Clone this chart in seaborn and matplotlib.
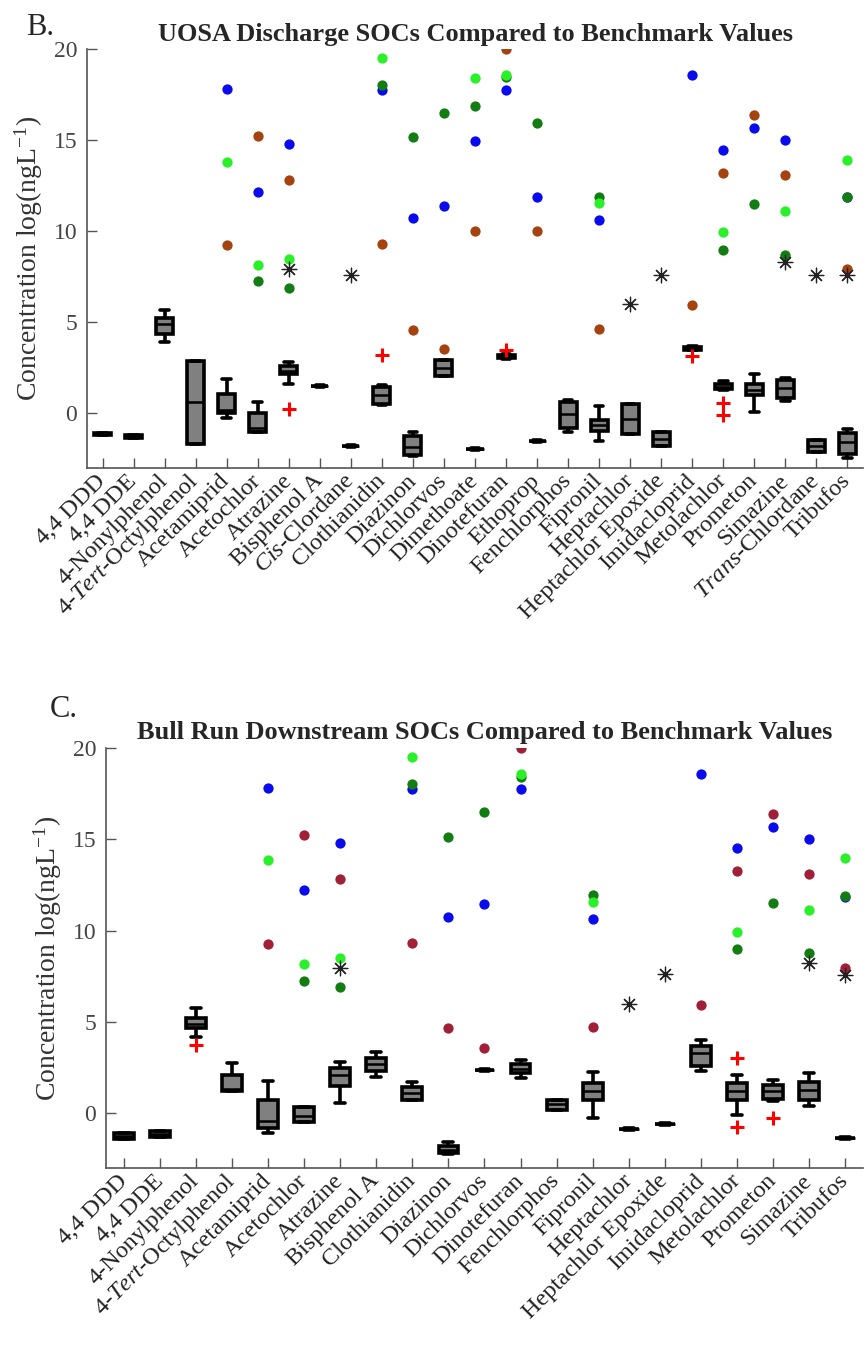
import numpy as np
import pandas as pd
import matplotlib
matplotlib.use("Agg")
import matplotlib.pyplot as plt
import seaborn as sns

sns.set_style("ticks")
plt.rcParams["font.family"] = ["Liberation Serif", "DejaVu Serif"]
plt.rcParams["mathtext.fontset"] = "custom"
plt.rcParams["mathtext.rm"] = "Liberation Serif"
plt.rcParams["mathtext.it"] = "Liberation Serif:italic"
plt.rcParams["mathtext.bf"] = "Liberation Serif:bold"

NaN = np.nan

# ---------------- Panel B: UOSA Discharge ----------------
cats_b = ["4,4 DDD", "4,4 DDE", "4-Nonylphenol", "4-Tert-Octylphenol", "Acetamiprid",
          "Acetochlor", "Atrazine", "Bisphenol A", "Cis-Clordane", "Clothianidin",
          "Diazinon", "Dichlorvos", "Dimethoate", "Dinotefuran", "Ethoprop",
          "Fenchlorphos", "Fipronil", "Heptachlor", "Heptachlor Epoxide", "Imidacloprid",
          "Metolachlor", "Prometon", "Simazine", "Trans-Chlordane", "Tribufos"]
labels_b = ["4,4 DDD", "4,4 DDE", "4-Nonylphenol", "4-$\\it{Tert}$-Octylphenol", "Acetamiprid",
            "Acetochlor", "Atrazine", "Bisphenol A", "$\\it{Cis}$-Clordane", "Clothianidin",
            "Diazinon", "Dichlorvos", "Dimethoate", "Dinotefuran", "Ethoprop",
            "Fenchlorphos", "Fipronil", "Heptachlor", "Heptachlor Epoxide", "Imidacloprid",
            "Metolachlor", "Prometon", "Simazine", "$\\it{Trans}$-Chlordane", "Tribufos"]
lo_b  = [-1.20, -1.35, 3.90, -1.70, -0.25, -1.05, 1.60, 1.45, -1.85, 0.45, -2.35, 2.05, -2.00, 3.00, -1.55, -1.05, -1.50, -1.15, -1.80, 3.45, 1.30, 0.10, 0.70, -2.10, -2.43]
q1_b  = [-1.20, -1.35, 4.35, -1.70, 0.00, -1.00, 2.15, 1.50, -1.80, 0.50, -2.30, 2.05, -1.95, 3.05, -1.50, -0.80, -0.95, -1.15, -1.80, 3.50, 1.35, 1.00, 0.85, -2.10, -2.25]
med_b = [-1.15, -1.28, 4.90, 0.60, 0.20, -0.80, 2.35, 1.50, -1.80, 1.00, -1.85, 2.50, -1.95, 3.10, -1.50, -0.05, -0.65, -0.30, -1.40, 3.60, 1.45, 1.30, 1.40, -1.80, -1.60]
q3_b  = [-1.10, -1.20, 5.25, 2.85, 1.05, 0.00, 2.60, 1.50, -1.80, 1.45, -1.25, 2.95, -1.95, 3.20, -1.50, 0.60, -0.35, 0.50, -1.00, 3.65, 1.60, 1.60, 1.85, -1.45, -1.10]
hi_b  = [-1.10, -1.20, 5.70, 2.85, 1.90, 0.60, 2.80, 1.55, -1.75, 1.55, -1.00, 2.95, -1.90, 3.25, -1.45, 0.75, 0.40, 0.50, -1.00, 3.70, 1.80, 2.15, 1.95, -1.45, -0.88]
out_cat_b = ["Atrazine", "Clothianidin", "Dinotefuran", "Imidacloprid", "Metolachlor", "Metolachlor"]
out_val_b = [0.25, 3.20, 3.45, 3.15, 0.55, -0.10]
bench_cat_b = ["Acetamiprid", "Acetochlor", "Atrazine", "Clothianidin", "Diazinon", "Dichlorvos",
               "Dimethoate", "Dinotefuran", "Ethoprop", "Fipronil", "Imidacloprid", "Metolachlor",
               "Prometon", "Simazine", "Tribufos"]
blue_b  = [17.80, 12.15, 14.80, 17.75, 10.70, 11.40, 14.95, 17.75, 11.90, 10.60, 18.55, 14.45, 15.65, 15.00, 11.85]
dgreen_b = [NaN, 7.25, 6.90, 18.00, 15.15, 16.50, 16.85, 18.45, 15.95, 11.90, NaN, 8.95, 11.50, 8.70, 11.90]
lime_b  = [13.80, 8.15, 8.45, 19.50, NaN, NaN, 18.40, 18.55, NaN, 11.55, NaN, 9.95, NaN, 11.10, 13.90]
red_b   = [9.25, 15.25, 12.80, 9.30, 4.60, 3.55, 10.00, 20.00, 10.00, 4.65, 5.95, 13.20, 16.40, 13.10, 7.90]
star_cat_b = ["Atrazine", "Cis-Clordane", "Heptachlor", "Heptachlor Epoxide", "Simazine", "Trans-Chlordane", "Tribufos"]
star_val_b = [7.95, 7.60, 6.00, 7.60, 8.30, 7.60, 7.60]

# ---------------- Panel C: Bull Run Downstream ----------------
cats_c = ["4,4 DDD", "4,4 DDE", "4-Nonylphenol", "4-Tert-Octylphenol", "Acetamiprid",
          "Acetochlor", "Atrazine", "Bisphenol A", "Clothianidin", "Diazinon",
          "Dichlorvos", "Dinotefuran", "Fenchlorphos", "Fipronil", "Heptachlor",
          "Heptachlor Epoxide", "Imidacloprid", "Metolachlor", "Prometon", "Simazine", "Tribufos"]
labels_c = ["4,4 DDD", "4,4 DDE", "4-Nonylphenol", "4-$\\it{Tert}$-Octylphenol", "Acetamiprid",
            "Acetochlor", "Atrazine", "Bisphenol A", "Clothianidin", "Diazinon",
            "Dichlorvos", "Dinotefuran", "Fenchlorphos", "Fipronil", "Heptachlor",
            "Heptachlor Epoxide", "Imidacloprid", "Metolachlor", "Prometon", "Simazine", "Tribufos"]
lo_c  = [-1.40, -1.30, 4.15, 1.20, -1.10, -0.50, 0.55, 2.00, 0.75, -2.25, 2.30, 1.95, 0.20, -0.25, -0.90, -0.65, 2.30, -0.12, 0.65, 0.40, -1.40]
q1_c  = [-1.40, -1.30, 4.65, 1.20, -0.80, -0.50, 1.50, 2.30, 0.75, -2.20, 2.35, 2.20, 0.20, 0.75, -0.85, -0.60, 2.60, 0.75, 0.80, 0.75, -1.35]
med_c = [-1.25, -1.15, 4.90, 1.35, -0.45, -0.15, 2.10, 2.70, 1.10, -2.00, 2.35, 2.40, 0.50, 1.20, -0.85, -0.60, 3.30, 1.20, 1.20, 1.25, -1.35]
q3_c  = [-1.10, -1.00, 5.20, 2.10, 0.75, 0.35, 2.45, 3.00, 1.45, -1.80, 2.35, 2.70, 0.75, 1.65, -0.85, -0.60, 3.70, 1.65, 1.55, 1.70, -1.35]
hi_c  = [-1.10, -1.00, 5.75, 2.75, 1.75, 0.35, 2.80, 3.35, 1.70, -1.60, 2.40, 2.90, 0.75, 2.25, -0.80, -0.55, 4.00, 2.10, 1.80, 2.20, -1.30]
out_cat_c = ["4-Nonylphenol", "Metolachlor", "Metolachlor", "Prometon"]
out_val_c = [3.75, 3.05, -0.73, -0.27]
bench_cat_c = ["Acetamiprid", "Acetochlor", "Atrazine", "Clothianidin", "Diazinon", "Dichlorvos",
               "Dinotefuran", "Fipronil", "Imidacloprid", "Metolachlor", "Prometon", "Simazine", "Tribufos"]
blue_c  = [17.80, 12.20, 14.80, 17.75, 10.75, 11.45, 17.75, 10.65, 18.60, 14.50, 15.65, 15.00, 11.85]
dgreen_c = [NaN, 7.25, 6.90, 18.05, 15.15, 16.50, 18.40, 11.95, NaN, 9.00, 11.50, 8.75, 11.90]
lime_c  = [13.85, 8.15, 8.50, 19.50, NaN, NaN, 18.55, 11.55, NaN, 9.95, NaN, 11.15, 13.95]
red_c   = [9.25, 15.25, 12.80, 9.30, 4.65, 3.55, 20.00, 4.70, 5.95, 13.25, 16.40, 13.10, 7.95]
star_cat_c = ["Atrazine", "Heptachlor", "Heptachlor Epoxide", "Simazine", "Tribufos"]
star_val_c = [7.95, 6.00, 7.60, 8.25, 7.55]

yticks = [0, 5, 10, 15, 20]

W, H = 866, 1367
fig = plt.figure(figsize=(W / 100, H / 100), dpi=100)


def panel(rect, cats, labels, lo, q1, med, q3, hi, out_cat, out_val,
          bench_cat, blue, dgreen, lime, redv, red_color, star_cat, star_val, title, title_pad):
    ax = fig.add_axes(rect)
    df = pd.DataFrame({
        "cat": np.repeat(cats, 5),
        "val": np.column_stack([lo, q1, med, q3, hi]).ravel(),
    })
    sns.boxplot(data=df, x="cat", y="val", order=cats, whis=(0, 100), width=0.55,
                color="#808080", saturation=1, linecolor="black", linewidth=2.6,
                fliersize=0, ax=ax,
                medianprops=dict(color="black", linewidth=1.8))
    bc = np.array(bench_cat)
    for vals, col in [(blue, "#0a0aee"), (dgreen, "#137c13"), (lime, "#2af02a"), (redv, red_color)]:
        v = np.array(vals, dtype=float)
        m = ~np.isnan(v)
        sns.stripplot(x=bc[m], y=v[m], order=cats, jitter=False, color=col, size=7.4,
                      linewidth=0, ax=ax, zorder=4)
    sns.stripplot(x=star_cat, y=star_val, order=cats, jitter=False, color="#222222",
                  marker=(8, 2, 0), size=10.5, linewidth=0.9, ax=ax, zorder=5)
    sns.stripplot(x=out_cat, y=out_val, order=cats, jitter=False, color="red",
                  marker="+", size=10, linewidth=2.2, ax=ax, zorder=5)
    n = len(cats)
    ax.set_xlim(-0.5, n - 0.5)
    ax.set_ylim(-3, 20)
    ax.set_yticks(yticks)
    ax.set_xticks(range(n))
    ax.set_xticklabels(labels, rotation=45, ha="right", va="center",
                       rotation_mode="anchor", fontsize=17.5, color="#222222")
    ax.tick_params(axis="x", direction="in", length=7, width=1, colors="#555555",
                   labelcolor="#222222", pad=7)
    ax.tick_params(axis="y", direction="in", length=7, width=1, colors="#555555",
                   labelcolor="#444444", labelsize=17, pad=7)
    ax.set_xlabel("")
    ax.set_ylabel("Concentration log(ngL$^{-1}$)", fontsize=20, color="#333333", labelpad=6)
    sns.despine(ax=ax)
    for s in ["left", "bottom"]:
        ax.spines[s].set_color("#555555")
        ax.spines[s].set_linewidth(1.2)
    ax.set_title(title, fontweight="bold", fontsize=19, pad=title_pad)
    return ax


panel([87 / W, 1 - 468 / H, (863 - 87) / W, (468 - 49) / H], cats_b, labels_b,
      lo_b, q1_b, med_b, q3_b, hi_b, out_cat_b, out_val_b,
      bench_cat_b, blue_b, dgreen_b, lime_b, red_b, "#a4430f",
      star_cat_b, star_val_b, "UOSA Discharge SOCs Compared to Benchmark Values", 5.5)

panel([106 / W, 1 - 1168 / H, (863 - 106) / W, (1168 - 748) / H], cats_c, labels_c,
      lo_c, q1_c, med_c, q3_c, hi_c, out_cat_c, out_val_c,
      bench_cat_c, blue_c, dgreen_c, lime_c, red_c, "#a02038",
      star_cat_c, star_val_c, "Bull Run Downstream SOCs Compared to Benchmark Values", 6.8)

fig.text(26 / W, 1 - 35 / H, "B.", fontsize=22, va="baseline", ha="left")
fig.text(50 / W, 1 - 717 / H, "C.", fontsize=22, va="baseline", ha="left")

fig.savefig("out.png", dpi=100)
